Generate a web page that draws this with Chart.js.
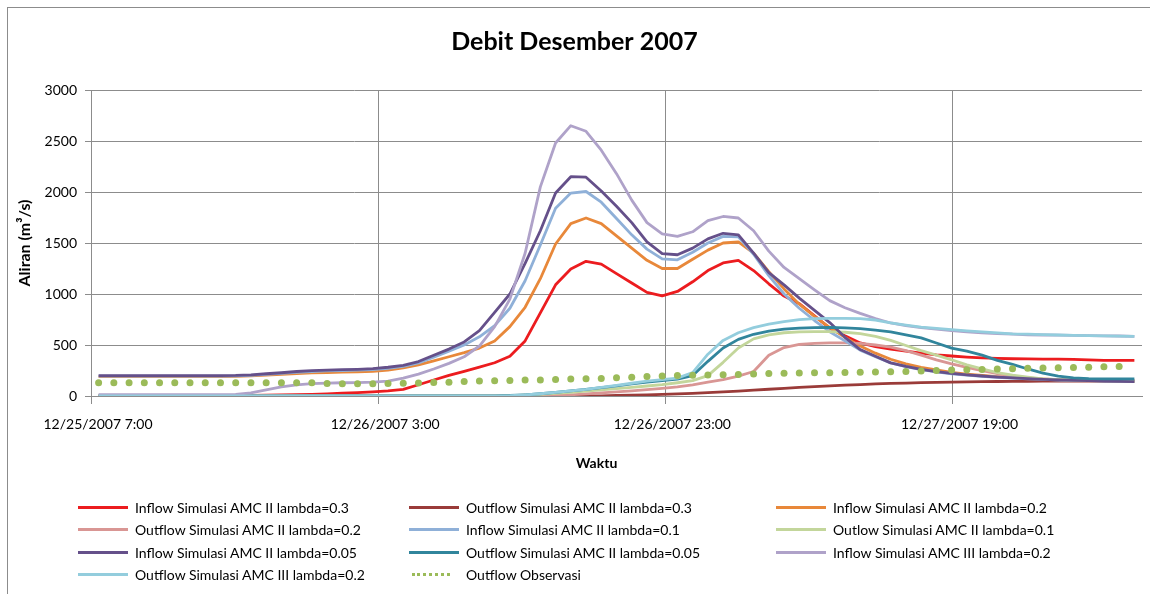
<!DOCTYPE html>
<html lang="id">
<head>
<meta charset="UTF-8">
<title>Debit Desember 2007</title>
<script src="https://cdn.jsdelivr.net/npm/chart.js"></script>
<style>
  body { margin: 0; background: #fff; }
  #wrap { position: relative; width: 1150px; height: 594px; overflow: hidden; }
  #frame { position: absolute; left: 7px; top: 7px; width: 1160px; height: 640px; border: 1px solid #8c8c8c; box-sizing: border-box; pointer-events: none; }
  #legend { position: absolute; left: 0; top: 0; font-family: Lato, sans-serif; font-size: 14px; color: #000; }
  .item { position: absolute; height: 18px; display: flex; align-items: center; white-space: nowrap; }
  .swatch { width: 50px; height: 0; border-top-width: 3px; border-top-style: solid; margin-right: 7px; }
</style>
</head>
<body>
<div id="wrap">
  <canvas id="debit" width="1150" height="594"></canvas>
  <div id="frame"></div>
  <div id="legend"></div>
</div>

<script>
// x axis tick labels, one every 20 hours
const tickLabels = ['12/25/2007 7:00', '12/26/2007 3:00', '12/26/2007 23:00', '12/27/2007 19:00'];

// discharge (m3/s) per time step
const inflowAmc2L03 = [0,0,0,0,0,0,0,0,0,2,
  5,8,10,13,16,20,27,33,40,50,
  65,110,157,202,242,283,326,390,540,815,
  1090,1245,1320,1293,1200,1108,1016,982,1025,1120,
  1230,1305,1330,1230,1100,980,905,785,665,590,
  520,485,460,440,420,404,392,382,374,368,
  365,363,362,361,360,354,350,350,350];
const outflowAmc2L03 = [0,0,0,0,0,0,0,0,0,0,
  0,0,0,0,0,0,0,0,0,0,
  0,0,0,0,0,0,0,0,0,0,
  0,0,0,2,5,8,12,15,20,26,
  33,40,48,57,66,75,84,92,100,106,
  112,118,123,127,131,134,137,139,141,142,
  143,144,145,145,146,146,147,147,147];
const inflowAmc2L02 = [190,190,190,190,190,190,190,190,190,192,
  197,204,212,220,226,230,234,237,242,255,
  275,305,345,385,425,470,540,680,870,1150,
  1490,1690,1745,1690,1570,1450,1330,1250,1250,1340,
  1430,1500,1510,1400,1220,1050,900,780,670,575,
  490,420,360,315,280,255,232,215,202,190,
  180,172,165,160,155,152,149,146,144];
const outflowAmc2L02 = [0,0,0,0,0,0,0,0,0,0,
  0,0,0,0,0,0,0,0,0,0,
  0,0,0,0,0,0,0,0,0,0,
  5,12,20,30,40,50,62,75,90,110,
  135,160,195,240,400,475,505,515,520,520,
  515,500,480,445,400,355,315,280,248,220,
  196,178,167,160,156,153,151,150,150];
const inflowAmc2L01 = [195,195,195,195,195,195,195,195,195,197,
  203,212,222,232,240,246,250,254,260,272,
  290,325,380,440,500,580,690,860,1130,1480,
  1840,1990,2005,1900,1740,1580,1440,1345,1335,1410,
  1500,1565,1560,1390,1180,1000,860,740,630,540,
  450,385,325,288,258,236,218,205,193,184,
  176,168,162,157,153,150,147,144,142];
const outflowAmc2L01 = [0,0,0,0,0,0,0,0,0,0,
  0,0,0,0,0,0,0,0,0,0,
  0,0,0,0,0,0,0,3,8,15,
  25,36,48,60,72,85,98,112,130,150,
  200,330,470,560,600,620,628,632,632,625,
  612,585,545,495,445,400,355,305,265,230,
  205,185,168,160,155,152,150,148,147];
const inflowAmc2L005 = [200,200,200,200,200,200,200,200,200,202,
  208,218,228,240,248,254,258,262,268,282,
  300,338,400,460,530,640,820,1000,1300,1620,
  1990,2150,2145,2010,1860,1700,1510,1395,1385,1450,
  1540,1595,1580,1400,1210,1090,960,840,720,575,
  455,390,325,290,260,240,222,208,196,186,
  178,170,163,158,154,150,147,144,140];
const outflowAmc2L005 = [0,0,0,0,0,0,0,0,0,0,
  0,0,0,0,0,0,0,0,0,0,
  0,0,0,0,0,0,2,5,12,22,
  35,50,65,82,100,118,135,150,165,200,
  340,470,555,605,635,655,665,670,672,668,
  660,645,628,600,570,520,470,440,400,350,
  310,265,225,195,178,170,168,167,167];
const inflowAmc3L02 = [13,13,13,13,13,13,13,13,13,15,
  30,60,90,110,122,127,130,132,136,145,
  175,215,265,320,385,490,680,950,1400,2050,
  2480,2650,2595,2410,2180,1920,1700,1590,1565,1610,
  1720,1760,1745,1620,1420,1260,1150,1040,935,865,
  810,760,716,690,670,655,640,630,620,612,
  606,600,598,596,594,592,590,588,585];
const outflowAmc3L02 = [0,0,0,0,0,0,0,0,0,0,
  0,0,0,0,0,0,0,0,0,0,
  0,0,0,0,0,0,0,3,10,22,
  35,50,65,85,105,125,145,160,175,230,
  410,545,620,670,705,730,748,758,762,762,
  758,745,718,695,675,662,650,638,628,618,
  610,606,602,598,595,592,590,587,585];
const outflowObservasi = [130,130,130,130,130,130,130,130,130,130,
  130,130,130,130,130,122,120,120,120,122,
  125,128,132,136,142,146,150,153,156,158,
  162,166,168,172,180,185,190,196,200,203,
  206,209,212,215,220,222,225,227,229,231,
  233,235,238,241,245,249,254,257,260,264,
  268,271,274,277,280,283,286,288];

// category index for every time step
const steps = inflowAmc2L03.map((_, i) => i);

const gridColor = '#8c8c8c';
const tickFont = { family: 'Lato', size: 14 };

function line(label, data, color) {
  return { label, data, borderColor: color, backgroundColor: color, borderWidth: 2.8,
    pointRadius: 0, tension: 0, borderJoinStyle: 'round', fill: false };
}

const datasets = [
  line('Inflow Simulasi AMC II lambda=0.3', inflowAmc2L03, '#ec1c1f'),
  line('Outflow Simulasi AMC II lambda=0.3', outflowAmc2L03, '#9a3b39'),
  line('Inflow Simulasi AMC II lambda=0.2', inflowAmc2L02, '#e8883a'),
  line('Outflow Simulasi AMC II lambda=0.2', outflowAmc2L02, '#d99694'),
  line('Inflow Simulasi AMC II lambda=0.1', inflowAmc2L01, '#8fb0d8'),
  line('Outlow Simulasi AMC II lambda=0.1', outflowAmc2L01, '#c3d69b'),
  line('Inflow Simulasi AMC II lambda=0.05', inflowAmc2L005, '#65508a'),
  line('Outflow Simulasi AMC II lambda=0.05', outflowAmc2L005, '#31859c'),
  line('Inflow Simulasi AMC III lambda=0.2', inflowAmc3L02, '#afa2c9'),
  line('Outflow Simulasi AMC III lambda=0.2', outflowAmc3L02, '#93cddd'),
  { label: 'Outflow Observasi', data: outflowObservasi, showLine: false,
    pointRadius: 3.5, pointBorderWidth: 0, pointBackgroundColor: '#9bbb59',
    borderColor: '#9bbb59', dotted: true }
];
// later series are painted over earlier ones
datasets.forEach((d, i) => { d.order = datasets.length - i; });

// x axis caption, sitting a little left of the plot centre
const axisCaption = {
  id: 'axisCaption',
  afterDraw(chart) {
    const { ctx, chartArea } = chart;
    ctx.save();
    ctx.font = 'bold 14px Lato';
    ctx.fillStyle = '#000';
    ctx.textAlign = 'center';
    ctx.textBaseline = 'middle';
    ctx.fillText('Waktu', (chartArea.left + chartArea.right) / 2 - 20, chartArea.bottom + 67);
    ctx.restore();
  }
};

const chart = new Chart(document.getElementById('debit'), {
  type: 'line',
  data: { labels: steps, datasets },
  plugins: [axisCaption],
  options: {
    responsive: false,
    animation: false,
    events: [],
    layout: { padding: { left: 7, right: 8, top: 10, bottom: 118 } },
    plugins: {
      legend: { display: false },
      tooltip: { enabled: false },
      title: {
        display: true, text: 'Debit Desember 2007', color: '#000',
        font: { family: 'Lato', size: 25, weight: 'bold' },
        padding: { top: 17, bottom: 33 }
      }
    },
    scales: {
      x: { type: 'category', display: false, offset: true },
      time: {
        type: 'linear', position: 'bottom', min: 0, max: 3.66,
        afterFit: s => { s.height = 80; },
        grid: { color: gridColor, tickLength: 8 },
        border: { color: gridColor },
        ticks: {
          stepSize: 1, includeBounds: false, autoSkip: false, maxRotation: 0,
          padding: 12, labelOffset: 7, color: '#000', font: tickFont,
          callback: v => tickLabels[v] ?? ''
        }
      },
      y: {
        min: 0, max: 3000,
        afterFit: s => { s.width = 84; },
        grid: { color: gridColor, tickLength: 6 },
        border: { color: gridColor },
        ticks: { stepSize: 500, padding: 8, color: '#000', font: tickFont, callback: v => String(v) },
        title: { display: true, text: 'Aliran (m³/s)', color: '#000',
          font: { family: 'Lato', size: 16, weight: 'bold' }, padding: { top: 8, bottom: 0 } }
      }
    }
  }
});

// legend in three columns under the plot
const legendCols = [78, 409, 776];
const legendRows = [507, 529, 552, 574];
const legendEl = document.getElementById('legend');
chart.data.datasets.forEach((ds, i) => {
  const item = document.createElement('div');
  item.className = 'item';
  item.style.left = legendCols[i % 3] + 'px';
  item.style.top = (legendRows[Math.floor(i / 3)] - 9) + 'px';
  const sw = document.createElement('span');
  sw.className = 'swatch';
  sw.style.borderTopColor = ds.borderColor;
  if (ds.dotted) { sw.style.borderTopStyle = 'dotted'; sw.style.width = '38px'; sw.style.marginLeft = '3px'; sw.style.marginRight = '16px'; }
  const tx = document.createElement('span');
  tx.textContent = ds.label;
  item.appendChild(sw);
  item.appendChild(tx);
  legendEl.appendChild(item);
});
</script>
</body>
</html>
